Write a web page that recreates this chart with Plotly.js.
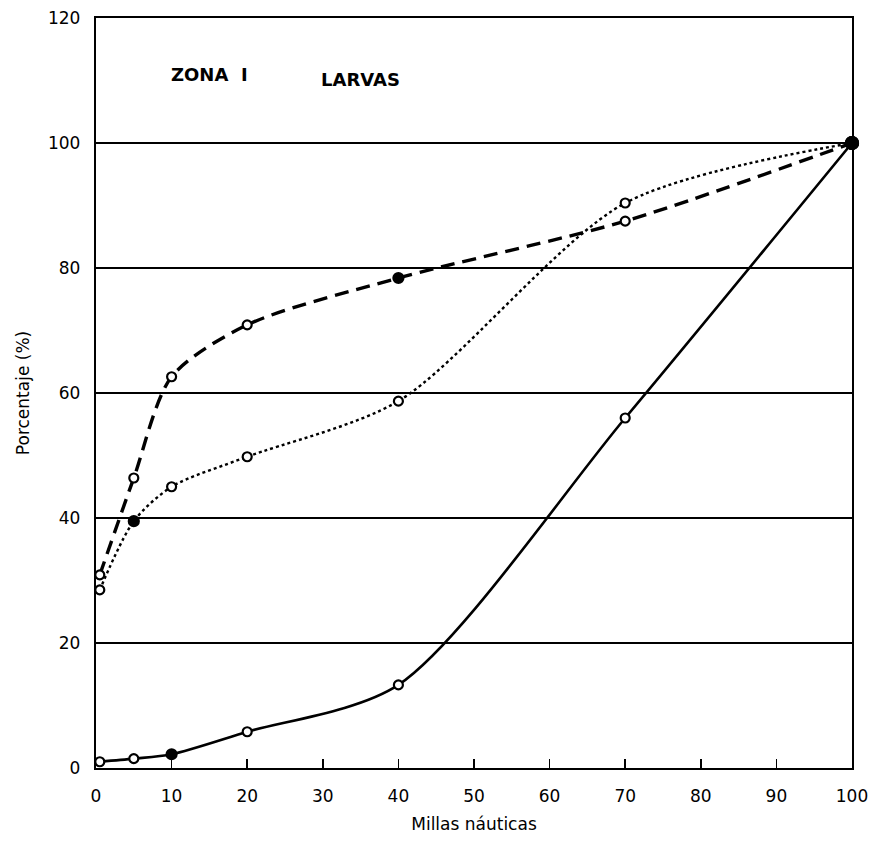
<!DOCTYPE html>
<html>
<head>
<meta charset="utf-8">
<script src="https://cdn.plot.ly/plotly-3.0.1.min.js"></script>
<style>html,body{margin:0;padding:0;background:#fff;}#chart{width:878px;height:845px;}</style>
</head>
<body>
<div id="chart"></div>
<script>
// Data
const millas = [0.5, 5, 10, 20, 40, 70, 100];
const solidVals  = [1.0, 1.5, 2.2, 5.8, 13.3, 56.0, 100];
const dashedVals = [30.9, 46.4, 62.6, 70.9, 78.4, 87.5, 100];
const dottedVals = [28.5, 39.5, 45.0, 49.8, 58.7, 90.4, 100];
// which points are drawn filled (true) vs open circle (false)
const solidFilled  = [false, false, true, false, false, false, true];
const dashedFilled = [false, false, false, false, true, false, true];
const dottedFilled = [false, true, false, false, false, false, true];
const xTicks = [0, 10, 20, 30, 40, 50, 60, 70, 80, 90, 100];
const yTicks = [0, 20, 40, 60, 80, 100, 120];

function fills(arr){ return arr.map(f => f ? '#000000' : '#ffffff'); }
function sizes(arr){ return arr.map((f,i) => (i === arr.length-1) ? 12 : (f ? 10 : 9)); }

function series(y, filled, dash, width){
  return {
    x: millas, y: y, type: 'scatter', mode: 'lines+markers',
    line: {color: '#000', width: width, dash: dash, shape: 'spline', smoothing: 0.8},
    marker: {symbol: 'circle', size: sizes(filled), color: fills(filled), opacity: 1,
             line: {color: '#000000', width: 2.2}},
    opacity: 1,
    cliponaxis: false, showlegend: false, hoverinfo: 'skip'
  };
}

const data = [
  series(dottedVals, dottedFilled, 'dot', 2.4),
  series(dashedVals, dashedFilled, '14px,8px', 3.4),
  series(solidVals, solidFilled, 'solid', 2.6)
];

const fam = 'DejaVu Sans, sans-serif';
const tickFont = {family: fam, size: 17, color: '#000'};

const layout = {
  width: 878, height: 845,
  margin: {l: 96, r: 26, t: 18, b: 77},
  paper_bgcolor: '#fff', plot_bgcolor: '#fff',
  showlegend: false,
  xaxis: {
    range: [0, 100], tickvals: xTicks, ticktext: xTicks.map(String),
    ticks: 'inside', ticklen: 9, tickwidth: 1.5, tickcolor: '#000',
    showgrid: false, zeroline: false,
    showline: true, linecolor: '#000', linewidth: 2.2, mirror: true,
    tickfont: tickFont, ticklabelstandoff: 11,
    title: {text: 'Millas náuticas', font: {family: fam, size: 17, color: '#000'}, standoff: 14}
  },
  yaxis: {
    range: [0, 120], tickvals: yTicks, ticktext: yTicks.map(String),
    ticks: '', showgrid: true, gridcolor: '#000', gridwidth: 2,
    zeroline: false,
    showline: true, linecolor: '#000', linewidth: 2.2, mirror: true,
    tickfont: tickFont, ticklabelstandoff: 10,
    title: {text: 'Porcentaje (%)', font: {family: fam, size: 17, color: '#000'}, standoff: 14}
  },
  annotations: [
    {xref: 'paper', yref: 'paper', x: 0.097, y: 0.925, xanchor: 'left', yanchor: 'middle',
     text: '<b>ZONA  I</b>', showarrow: false,
     font: {family: fam, size: 18, color: '#000'}},
    {xref: 'paper', yref: 'paper', x: 0.295, y: 0.918, xanchor: 'left', yanchor: 'middle',
     text: '<b>LARVAS</b>', showarrow: false,
     font: {family: fam, size: 18, color: '#000'}}
  ]
};

Plotly.newPlot('chart', data, layout, {staticPlot: true, displayModeBar: false});
</script>
</body>
</html>
